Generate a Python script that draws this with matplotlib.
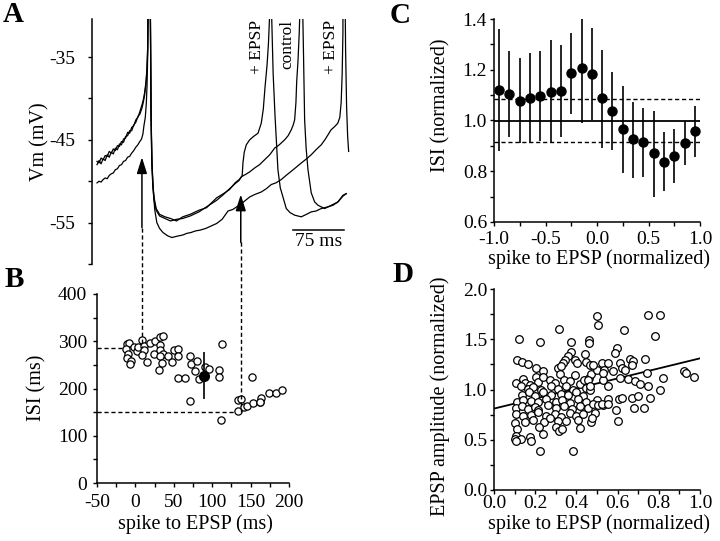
import matplotlib
matplotlib.use("Agg")
import matplotlib.pyplot as plt
from matplotlib.lines import Line2D
from matplotlib.ticker import FixedLocator, MultipleLocator

plt.rcParams['font.family'] = ['Liberation Serif', 'DejaVu Serif']
plt.rcParams['font.size'] = 14
plt.rcParams['axes.linewidth'] = 1.1
plt.rcParams['axes.unicode_minus'] = False

# ---------------- Panel A: membrane potential traces (t in ms, V in mV) ----------------
early_t = [0, 3, 6, 9, 12, 15, 18, 21, 24, 27, 30, 33, 36, 39, 42, 45, 48, 51, 54, 57, 60, 63, 66, 68, 70, 72,
           73.5, 74.5, 75.3, 76,
           77.5, 78.5, 79.5, 80.5, 82, 84, 87, 92, 100, 108, 117, 126, 137, 150, 161, 176, 186, 195, 203, 209, 212,
           213.5, 214.6, 216.5, 219.5, 224.5, 230, 236.7, 241.5, 244.5, 247, 250, 252, 253.8, 255.3,
           256.8, 259, 261.7, 264, 266, 269.5, 273.4, 278.3, 284, 290.6, 300.3, 308, 315, 322, 329.7,
           339.6, 347, 354.3, 361.6, 366.5]
early_v = [-48.0, -47.5, -47.9, -47.3, -47.5, -46.8, -47.1, -46.5, -46.7, -46.0, -46.2, -45.5, -45.6, -44.9,
           -44.8, -44.1, -44.2, -43.5, -43.3, -42.6, -42.3, -41.6, -40.8, -40.2, -39.3, -38.0,
           -36.3, -33.8, -27, 20,
           -10, -30, -42, -47.5, -50.5, -52.3, -53.5, -54.2, -54.5, -54.8, -54.6, -54.5, -54.2, -53.7, -53.1,
           -52.3, -51.6, -50.9, -50.3, -49.9, -49.5,
           -49.3, -47.8, -46.5, -45.6, -45.0, -44.6, -44.2, -43.0, -41.3, -38.7, -36.0, -33.5, -30, 20,
           -30, -37, -42, -45.5, -48.6, -50.8, -51.9, -53.3, -53.8, -54.1, -54.3, -54.0, -53.7, -53.6, -53.3,
           -53.1, -52.8, -52.5, -51.7, -51.5]

control_t = [0, 3, 6, 9, 12, 15, 18, 21, 24, 27, 30, 33, 36, 39, 42, 45, 48, 51, 54, 57, 60, 63, 66, 68, 70, 72,
             73.5, 74.5, 75.3, 76,
             77.5, 78.5, 79.5, 80.5, 82, 84, 87, 92, 100, 108, 117, 126, 137, 150, 161, 176, 186, 195, 203, 209, 212,
             213.5, 218, 224, 231.8, 239, 246.5, 254, 261.2, 268, 275.9, 281, 285.6, 288.5, 290.6, 292.5,
             293.6, 295.5, 297.4, 298.8, 299.9, 301.5, 303.5, 305.3, 307.5, 310.2, 315, 320, 324.9, 329.7,
             334.7, 339.6, 347, 354.3, 361.6, 366.5]
control_v = [-47.6, -47.8, -47.2, -47.4, -46.9, -47.0, -46.4, -46.6, -46.1, -46.3, -45.7, -45.8, -45.2, -45.3,
             -44.6, -44.5, -43.9, -43.9, -43.2, -42.9, -42.2, -41.9, -41.2, -40.5, -39.6, -38.3,
             -36.6, -34.2, -27, 20,
             -10, -30, -42, -47.2, -50.2, -52.0, -53.3, -54.0, -54.3, -54.5, -54.8, -54.3, -54.0, -53.5, -53.2,
             -52.0, -51.5, -51.0, -50.2, -49.8, -49.5,
             -49.4, -49.2, -48.9, -48.4, -48.0, -47.4, -46.8, -46.0, -45.6, -45.0, -44.5, -43.8, -43.2, -42.6,
             -40.5, -38.0, -35.5, -32.0, -28, 20, -25, -34, -42.6, -46, -48.6, -51.4, -52.5, -52.9, -53.1,
             -53.3, -53.1, -52.9, -52.5, -51.8, -51.5]

late_t = [0, 3, 6, 9, 12, 15, 18, 21, 24, 27, 30, 33, 36, 39, 42, 45, 48, 51, 54, 57, 60, 63, 65.5, 67.5, 69,
          71, 72.5, 73.5, 74.5, 75.3, 76,
          77.5, 78.5, 79.5, 81, 83, 85, 88, 92, 97, 104, 110, 115, 120, 126, 132, 138, 145, 152, 160, 168,
          176, 184, 192.6, 200, 207, 214, 224.5, 232, 241.5, 249, 256.2, 263, 270.9, 278, 285.6, 293,
          300.3, 308, 315, 322, 329.7, 335, 339.6, 344, 349.4, 354, 357, 359, 360.5, 361.6, 362.5,
          364, 365.5, 367, 368.5, 370]
late_v = [-50.2, -50.0, -50.1, -49.8, -49.6, -49.7, -49.3, -49.1, -49.0, -48.6, -48.5, -48.1, -48.0, -47.6,
          -47.5, -47.1, -47.0, -46.6, -46.3, -45.9, -45.6, -45.2, -44.9, -44.3, -43.3,
          -42.3, -40.6, -38.6, -35, -27, 20,
          -10, -30, -42, -48, -51.5, -53.5, -55, -55.7, -56.2, -56.6, -56.8, -56.7, -56.6, -56.5, -56.3,
          -56.2, -56.0, -55.9, -55.7, -55.4,
          -55.1, -54.6, -53.6, -53.4, -53.0, -52.6, -51.9, -51.6, -51.3, -50.9, -50.4, -50.2, -49.8, -49.3,
          -48.8, -48.3, -47.8, -47.3, -46.8, -46.2, -45.6, -45.0, -44.4, -43.8, -43.4, -43.0, -42.3, -40.5,
          -37, -32, 20, -20, -34, -41, -44.5, -46.4]

trace_labels = ['+ EPSP', 'control', '+ EPSP']
trace_label_t = [235.2, 279.3, 344.0]
scale_bar_ms = 75
scale_bar_start = 288.1

# EPSP markers: (spike to EPSP [ms], ISI [ms]) corners in panel B, arrow tips/tails in A (mV)
epsp_b_x = [8.5, 137.2]
epsp_b_y = [285.7, 149.6]
arrow_tip_v = [-47.1, -51.6]
arrow_tail_v = [-55.6, -57.4]

# ---------------- Panel B ----------------
b_x = [-11, -8, -11.9, -2.3, -9.7, -11, -5.8, -7.5, 2, 3.3, 8.5, 10.7, 11.6, 8.5, 15, 19.3, 25, 32.3, 35.8,
       32.3, 24.5, 32.3, 35.8, 31.4, 42.3, 34.5, 30.2, 47.5, 50.5, 56.1, 55.3, 55.3, 64, 71.3, 72.2, 80, 77,
       83, 70.5, 90.8, 95.2, 109, 109, 113.4, 111.8, 133, 138, 133, 142, 145, 152.3, 152.7, 161.6, 163.9,
       174.4, 182.6, 190.4, 162.6]
b_y = [294.9, 296, 283.6, 287.8, 273.7, 264.6, 257.5, 251.9, 278.7, 287.8, 303.4, 290.7, 280.8, 271.6, 255.4,
       296.3, 299.8, 309, 311.8, 291.4, 273.7, 282.2, 273.7, 268.1, 269.5, 254, 239.9, 255.4, 282.2, 283.6,
       269.5, 222.2, 222.2, 269.5, 251.9, 257.5, 236.3, 220.8, 172.8, 244.8, 241.3, 238.4, 223.6, 294.9,
       132.6, 175, 177.8, 151.7, 160.8, 163.7, 223.6, 169.3, 170.7, 179.9, 190.5, 190.5, 197.5, 172.2]
b_mean_x = [89.8]
b_mean_y = [225.7]
b_mean_lo = [177.8]
b_mean_hi = [276.5]

# ---------------- Panel C ----------------
c_x = [-0.95, -0.85, -0.75, -0.65, -0.55, -0.45, -0.35, -0.25, -0.15, -0.05,
       0.05, 0.15, 0.25, 0.35, 0.45, 0.55, 0.65, 0.75, 0.85, 0.95]
c_y = [1.120, 1.104, 1.077, 1.087, 1.098, 1.111, 1.116, 1.186, 1.208, 1.183,
       1.087, 1.037, 0.965, 0.926, 0.914, 0.870, 0.838, 0.860, 0.912, 0.958]
c_hi = [1.360, 1.274, 1.245, 1.265, 1.275, 1.317, 1.298, 1.346, 1.400, 1.363,
        1.278, 1.190, 1.136, 1.074, 1.048, 1.039, 0.953, 0.966, 0.998, 1.058]
c_lo = [0.880, 0.936, 0.912, 0.912, 0.919, 0.910, 0.936, 1.024, 0.989, 1.002,
        0.893, 0.884, 0.792, 0.772, 0.778, 0.700, 0.723, 0.755, 0.824, 0.857]
c_ref = 1.0
c_band = [0.916, 1.085]

# ---------------- Panel D ----------------
d_x = [0.501, 0.506, 0.316, 0.120, 0.225, 0.374, 0.459, 0.459, 0.112, 0.138, 0.165, 0.373, 0.361, 0.344,
       0.336, 0.395, 0.403, 0.441, 0.449, 0.465, 0.206, 0.238, 0.311, 0.327,
       0.109, 0.141, 0.152, 0.173, 0.206, 0.214, 0.238, 0.271, 0.298, 0.319, 0.339, 0.368, 0.392, 0.417,
       0.438, 0.462, 0.473,
       0.133, 0.165, 0.190, 0.230, 0.279, 0.311, 0.348, 0.384, 0.449,
       0.138, 0.170, 0.198, 0.238, 0.275, 0.327, 0.360, 0.400, 0.433, 0.465,
       0.113, 0.141, 0.182, 0.214, 0.251, 0.300, 0.332, 0.371, 0.408, 0.449, 0.498,
       0.109, 0.138, 0.165, 0.198, 0.214, 0.263, 0.303, 0.339, 0.381, 0.417, 0.454, 0.481,
       0.109, 0.141, 0.182, 0.214, 0.254, 0.295, 0.327, 0.368, 0.400, 0.433, 0.490,
       0.100, 0.149, 0.190, 0.241, 0.274, 0.311, 0.348, 0.408, 0.473,
       0.112, 0.219, 0.303, 0.316, 0.332, 0.417,
       0.238, 0.109, 0.100, 0.130, 0.105, 0.177, 0.182, 0.222, 0.384,
       0.749, 0.806, 0.632, 0.781, 0.595, 0.587, 0.522, 0.551, 0.611, 0.660, 0.673, 0.733, 0.668, 0.619,
       0.498, 0.535, 0.579, 0.635, 0.745, 0.611, 0.651, 0.684, 0.708, 0.749, 0.822, 0.924, 0.930, 0.972,
       0.806, 0.551, 0.530, 0.551, 0.606, 0.619, 0.668, 0.697, 0.757, 0.506, 0.530, 0.590, 0.679, 0.728,
       0.603,
       0.481, 0.530, 0.457, 0.478, 0.522, 0.551, 0.465]
d_y = [1.731, 1.646, 1.600, 1.498, 1.475, 1.469, 1.492, 1.459, 1.292, 1.269, 1.256, 1.377, 1.338, 1.295,
       1.262, 1.295, 1.262, 1.351, 1.269, 1.246, 1.213, 1.180, 1.213, 1.230,
       1.065, 1.105, 1.060, 1.045, 1.120, 1.078, 1.125, 1.090, 1.062, 1.150, 1.098, 1.080, 1.140, 1.055,
       1.092, 1.110, 1.150,
       1.030, 1.005, 1.022, 0.995, 1.030, 1.002, 1.035, 0.998, 1.018,
       0.948, 0.972, 0.935, 0.975, 0.950, 0.960, 0.945, 0.978, 0.940, 0.995,
       0.878, 0.900, 0.885, 0.872, 0.910, 0.880, 0.898, 0.870, 0.905, 0.880, 0.900,
       0.815, 0.835, 0.806, 0.830, 0.795, 0.842, 0.812, 0.832, 0.805, 0.840, 0.815, 0.852,
       0.760, 0.732, 0.748, 0.775, 0.740, 0.758, 0.728, 0.762, 0.735, 0.752, 0.768,
       0.670, 0.680, 0.700, 0.675, 0.712, 0.690, 0.682, 0.698, 0.675,
       0.607, 0.630, 0.623, 0.590, 0.607, 0.616,
       0.557, 0.541, 0.508, 0.508, 0.492, 0.531, 0.492, 0.387, 0.387,
       1.738, 1.744, 1.590, 1.531, 1.410, 1.361, 1.262, 1.262, 1.262, 1.305, 1.285, 1.305, 1.246, 1.213,
       1.197, 1.197, 1.180, 1.197, 1.164, 1.115, 1.108, 1.082, 1.056, 1.039, 1.115, 1.180, 1.164, 1.121,
       1.000, 1.033, 1.098, 0.902, 0.902, 0.918, 0.918, 0.934, 0.911, 0.846, 0.846, 0.793, 0.813, 0.820,
       0.682,
       1.246, 1.164, 1.098, 0.715, 0.852, 0.852, 1.033]
d_fit_x = [0.0, 1.0]
d_fit_y = [0.81, 1.31]

# ======================================================================================
W, H = 720, 541
fig = plt.figure(figsize=(7.2, 5.41), dpi=100)


def box(l, t, r, b):
    return [l / W, 1 - b / H, (r - l) / W, (b - t) / H]


def ftext(px, py, s, **kw):
    fig.text(px / W, 1 - py / H, s, **kw)


axA = fig.add_axes(box(92, 19, 350, 264))
axB = fig.add_axes(box(97, 294, 289, 483))
axC = fig.add_axes(box(494, 19, 700, 222))
axD = fig.add_axes(box(494, 289, 700, 490))

for ax in (axA, axB, axC, axD):
    ax.spines['top'].set_visible(False)
    ax.spines['right'].set_visible(False)
    ax.tick_params(which='both', direction='out', length=3, width=1.0, labelsize=14)

# ---- A ----
for t, v in ((early_t, early_v), (control_t, control_v), (late_t, late_v)):
    axA.plot(t, v, color='black', lw=0.9, solid_joinstyle='round')
axA.set_xlim(-7.35, 372)
axA.set_ylim(-60, -30.4)
axA.spines['bottom'].set_visible(False)
axA.set_xticks([])
axA.yaxis.set_major_locator(FixedLocator([-55, -45, -35]))
axA.yaxis.set_minor_locator(FixedLocator([-60, -50, -40]))
axA.tick_params(axis='y', pad=9)
for lab, tt in zip(trace_labels, trace_label_t):
    axA.text(tt, -30.5, lab, rotation=90, ha='center', va='top', fontsize=12.5)
axA.plot([scale_bar_start, scale_bar_start + scale_bar_ms], [-55.9, -55.9], color='black', lw=1.1)
axA.text(scale_bar_start + scale_bar_ms / 2, -57.3, f'{scale_bar_ms} ms', ha='center', va='center',
         fontsize=14)

# ---- B ----
axB.plot(b_x, b_y, 'o', ms=5.2, mfc='white', mec='black', mew=0.9, zorder=3, clip_on=False)
axB.errorbar(b_mean_x, b_mean_y,
             yerr=[[m - lo for m, lo in zip(b_mean_y, b_mean_lo)], [hi - m for m, hi in zip(b_mean_y, b_mean_hi)]],
             fmt='o', ms=7, color='black', elinewidth=1.2, capsize=0, zorder=4)
axB.set_xlim(-50, 200)
axB.set_ylim(0, 400)
axB.xaxis.set_major_locator(MultipleLocator(50))
axB.xaxis.set_minor_locator(MultipleLocator(25))
axB.yaxis.set_major_locator(MultipleLocator(100))
axB.yaxis.set_minor_locator(MultipleLocator(50))
axB.tick_params(axis='x', pad=5)
axB.tick_params(axis='y', pad=4)

# EPSP connectors
to_fig = fig.transFigure.inverted()
for bx, by, tip, tail in zip(epsp_b_x, epsp_b_y, arrow_tip_v, arrow_tail_v):
    fx, fyb = to_fig.transform(axB.transData.transform((bx, by)))
    ta = axA.transData.inverted().transform(fig.transFigure.transform((fx, 0)))[0]
    _, fya = to_fig.transform(axA.transData.transform((ta, tail)))
    axA.annotate('', xy=(ta, tip), xytext=(ta, tail),
                 arrowprops=dict(arrowstyle='-|>,head_length=0.7,head_width=0.22', color='black', lw=1.1,
                                 shrinkA=0, shrinkB=0, mutation_scale=14), annotation_clip=False)
    fig.add_artist(Line2D([fx, fx], [fya, fyb], transform=fig.transFigure, color='black', lw=1.0,
                          linestyle=(0, (3, 2)), zorder=1))
    axB.plot([-50, bx], [by, by], color='black', lw=1.0, linestyle=(0, (3, 2)), zorder=1, clip_on=False)

# ---- C ----
axC.errorbar(c_x, c_y, yerr=[[y - lo for y, lo in zip(c_y, c_lo)], [hi - y for y, hi in zip(c_y, c_hi)]],
             fmt='o', ms=6.5, color='black', elinewidth=1.2, capsize=0, zorder=3)
axC.plot([-1, 1], [c_ref, c_ref], color='black', lw=1.3)
for yb in c_band:
    axC.plot([-1, 1], [yb, yb], color='black', lw=1.0, linestyle=(0, (3, 2)))
axC.set_xlim(-1, 1)
axC.set_ylim(0.6, 1.4)
axC.xaxis.set_major_locator(MultipleLocator(0.5))
axC.xaxis.set_minor_locator(MultipleLocator(0.25))
axC.yaxis.set_major_locator(MultipleLocator(0.2))
axC.yaxis.set_minor_locator(MultipleLocator(0.1))
axC.xaxis.set_major_formatter(plt.FuncFormatter(lambda v, p: f'{v:.1f}'))
axC.yaxis.set_major_formatter(plt.FuncFormatter(lambda v, p: f'{v:.1f}'))
axC.tick_params(axis='x', pad=3.5)
axC.tick_params(axis='y', pad=2)

# ---- D ----
axD.plot(d_x, d_y, 'o', ms=5.5, mfc='white', mec='black', mew=0.9, zorder=3)
axD.plot(d_fit_x, d_fit_y, color='black', lw=1.3, zorder=2)
axD.set_xlim(0, 1)
axD.set_ylim(0, 2)
axD.xaxis.set_major_locator(MultipleLocator(0.2))
axD.xaxis.set_minor_locator(MultipleLocator(0.1))
axD.yaxis.set_major_locator(MultipleLocator(0.5))
axD.yaxis.set_minor_locator(MultipleLocator(0.25))
axD.xaxis.set_major_formatter(plt.FuncFormatter(lambda v, p: f'{v:.1f}'))
axD.yaxis.set_major_formatter(plt.FuncFormatter(lambda v, p: f'{v:.1f}'))
axD.tick_params(axis='x', pad=0.5)
axD.tick_params(axis='y', pad=2)

# ---- labels ----
lab_fs = 14.5
ftext(40, 142, 'Vm (mV)', rotation=90, ha='center', va='center', fontsize=lab_fs)
ftext(37, 388, 'ISI (ms)', rotation=90, ha='center', va='center', fontsize=lab_fs)
ftext(195, 524, 'spike to EPSP (ms)', ha='center', va='center', fontsize=lab_fs)
ftext(441, 105, 'ISI (normalized)', rotation=90, ha='center', va='center', fontsize=lab_fs)
ftext(599, 259, 'spike to EPSP (normalized)', ha='center', va='center', fontsize=lab_fs)
ftext(440, 396, 'EPSP amplitude (normalized)', rotation=90, ha='center', va='center', fontsize=lab_fs)
ftext(599, 524, 'spike to EPSP (normalized)', ha='center', va='center', fontsize=lab_fs)

for lx, ly, s in ((3, 22, 'A'), (5, 287, 'B'), (390, 23, 'C'), (392, 282, 'D')):
    ftext(lx, ly, s, fontsize=21, fontweight='bold', ha='left', va='baseline')

fig.savefig('out.png', dpi=100)
